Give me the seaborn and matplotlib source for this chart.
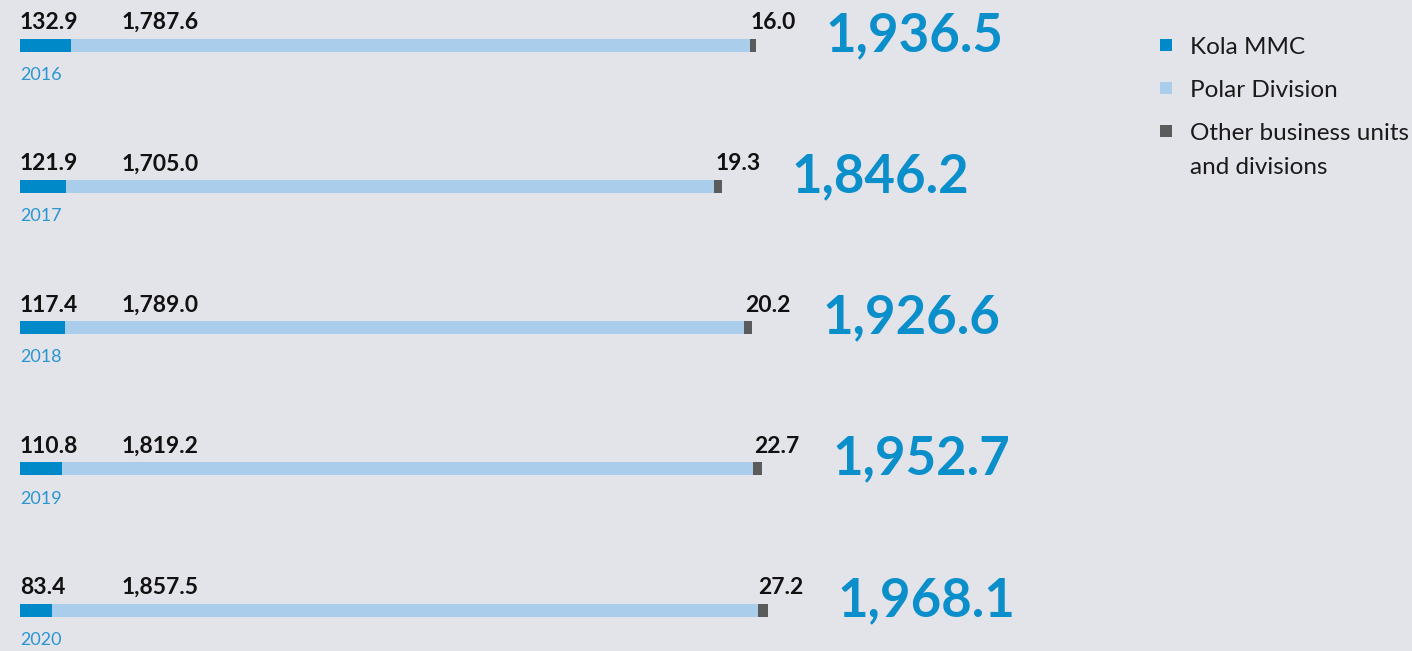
import matplotlib
matplotlib.use("Agg")
import matplotlib.pyplot as plt
from matplotlib.patches import Rectangle
import seaborn as sns
import pandas as pd

# Production by business unit, by year
years = ["2016", "2017", "2018", "2019", "2020"]
kola_mmc = [132.9, 121.9, 117.4, 110.8, 83.4]
polar_division = [1787.6, 1705.0, 1789.0, 1819.2, 1857.5]
other_units = [16.0, 19.3, 20.2, 22.7, 27.2]
totals = [1936.5, 1846.2, 1926.6, 1952.7, 1968.1]

legend_labels = ["Kola MMC", "Polar Division", "Other business units\nand divisions"]

BG = "#e3e3ea"
C_KOLA = "#0089c8"
C_POLAR = "#abcdec"
C_OTHER = "#5b5b5b"
C_TOTAL = "#0a8fcb"
C_YEAR = "#2a96d2"
C_TEXT = "#111111"

sns.set_theme(style="white")
plt.rcParams["font.family"] = ["Lato", "DejaVu Sans"]

df = pd.DataFrame({
    "year": years,
    "kola": kola_mmc,
    "polar": polar_division,
    "other": other_units,
})
df["kola_polar"] = df["kola"] + df["polar"]
df["total"] = df["kola_polar"] + df["other"]

W, H = 1412, 651
fig = plt.figure(figsize=(W / 100, H / 100), dpi=100, facecolor=BG)
ax = fig.add_axes([0, 0, 1, 1])
ax.set_facecolor(BG)

bar_w = 13 / 141.25
# stacked bars drawn back to front from cumulative sums
for col, color in (("total", C_OTHER), ("kola_polar", C_POLAR), ("kola", C_KOLA)):
    sns.barplot(data=df, y="year", x=col, color=color, width=bar_w,
                orient="h", ax=ax, saturation=1, edgecolor="none", linewidth=0)

# pixel-based axis extents
px_per_unit = 0.38
x0_px = 20
ax.set_xlim(-x0_px / px_per_unit, (W - x0_px) / px_per_unit)
row_px = 141.25
top_px = 45
ax.set_ylim((H - top_px) / row_px, -top_px / row_px)
ax.axis("off")


def dy(px):
    return px / row_px


def dx(px):
    return px / px_per_unit


for i, row in df.iterrows():
    ax.text(0, i - dy(16), f"{row['kola']:,.1f}", ha="left", va="baseline",
            fontsize=16.5, fontweight="bold", color=C_TEXT)
    ax.text(dx(102), i - dy(16), f"{row['polar']:,.1f}", ha="left", va="baseline",
            fontsize=16.5, fontweight="bold", color=C_TEXT)
    ax.text(row["kola_polar"] + dx(1), i - dy(16), f"{row['other']:,.1f}",
            ha="left", va="baseline", fontsize=16.5, fontweight="bold", color=C_TEXT)
    ax.text(0, i + dy(35), row["year"], ha="left", va="baseline",
            fontsize=13, color=C_YEAR)
    ax.text(totals[i] + dx(70), i + dy(6), f"{totals[i]:,.1f}", ha="left",
            va="baseline", fontsize=38, fontweight="bold", color=C_TOTAL)

# legend: square swatches with labels, laid out in pixel coordinates
legend_colors = [C_KOLA, C_POLAR, C_OTHER]
sw_x, txt_x, first_y, step, line_px = 1160, 1190, 45, 43, 34
for k, (lab, c) in enumerate(zip(legend_labels, legend_colors)):
    cy = first_y + k * step
    fig.add_artist(Rectangle((sw_x / W, 1 - (cy + 6) / H), 12 / W, 12 / H,
                             transform=fig.transFigure, facecolor=c,
                             edgecolor="none"))
    for j, line in enumerate(lab.split("\n")):
        fig.text(txt_x / W, 1 - (cy + 9 + j * line_px) / H, line, ha="left",
                 va="baseline", fontsize=17.5, color="#1a1a1a")

fig.savefig("out.png", dpi=100, facecolor=BG)
